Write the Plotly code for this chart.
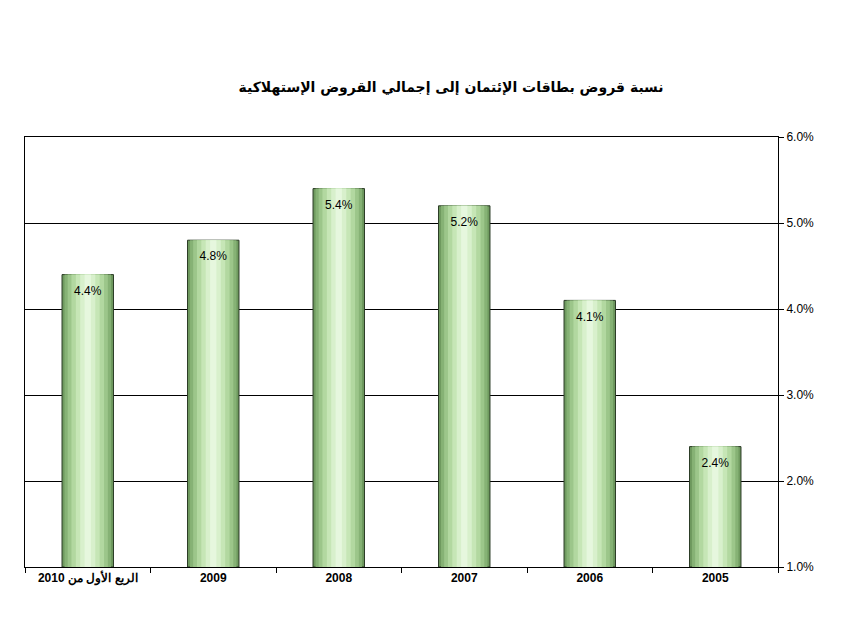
import plotly.graph_objects as go

categories = ["الربع الأول من 2010", "2009", "2008", "2007", "2006", "2005"]
values = [4.4, 4.8, 5.4, 5.2, 4.1, 2.4]
labels = ["4.4%", "4.8%", "5.4%", "5.2%", "4.1%", "2.4%"]
y_ticks = [1, 2, 3, 4, 5, 6]
y_tick_text = ["1.0%", "2.0%", "3.0%", "4.0%", "5.0%", "6.0%"]

fig = go.Figure()

# fake the cylinder gradient with stacked overlay bars, narrower = lighter
layers = [
    (0.41, "#6f9a5f"),
    (0.37, "#86b275"),
    (0.32, "#9cc68a"),
    (0.26, "#b2d8a0"),
    (0.19, "#c6e6b6"),
    (0.12, "#d8f0cc"),
    (0.05, "#e6f7de"),
]
for i, (w, c) in enumerate(layers):
    fig.add_trace(go.Bar(
        x=categories, y=[v - 1 for v in values], base=1, width=w,
        marker=dict(color=c, line=dict(color="#2a3a25" if i == 0 else c, width=1 if i == 0 else 0)),
        hoverinfo="skip", showlegend=False,
    ))

fig.add_trace(go.Scatter(
    x=categories, y=[v - 0.2 for v in values], mode="text", text=labels,
    textfont=dict(family="Liberation Sans", size=12, color="black"),
    showlegend=False, hoverinfo="skip",
))

fig.update_layout(
    barmode="overlay",
    width=852, height=626,
    paper_bgcolor="white", plot_bgcolor="white",
    margin=dict(l=17, r=82, t=129, b=67),
    title=dict(text="<b>نسبة قروض بطاقات الإئتمان إلى إجمالي القروض الإستهلاكية</b>",
               x=0.52, y=0.873, xanchor="center", yanchor="middle",
               font=dict(family="DejaVu Sans", size=14, color="black")),
    font=dict(family="Liberation Sans", size=12, color="black"),
)
fig.update_xaxes(
    showline=True, linecolor="black", linewidth=1, mirror=True,
    ticks="outside", tickson="boundaries", ticklen=5, tickcolor="black",
    tickfont=dict(size=12, family="Liberation Sans"),
    tickprefix="<b>", ticksuffix="</b>",
)
fig.update_yaxes(
    range=[1, 6], side="right", tickvals=y_ticks, ticktext=y_tick_text,
    showgrid=True, gridcolor="black", gridwidth=1,
    showline=True, linecolor="black", linewidth=1, mirror=True,
    ticks="outside", ticklen=5, tickcolor="black",
)

fig.write_html("out.html")
